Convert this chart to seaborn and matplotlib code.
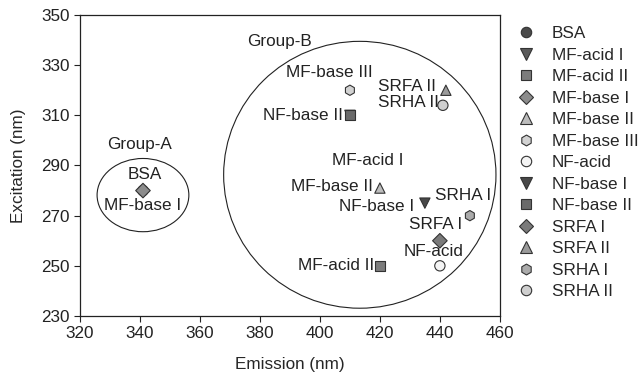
import numpy as np
import pandas as pd
import seaborn as sns
import matplotlib.pyplot as plt
from matplotlib.patches import Ellipse

# data
samples = ["BSA", "MF-acid I", "MF-acid II", "MF-base I", "MF-base II", "MF-base III",
           "NF-acid", "NF-base I", "NF-base II", "SRFA I", "SRFA II", "SRHA I", "SRHA II"]
emission = [341, 410, 420, 341, 420, 410, 440, 435, 410, 440, 442, 450, 441]
excitation = [280, 310, 250, 280, 281, 320, 250, 275, 310, 260, 320, 270, 314]

marker_list = ["o", "v", "s", "D", "^", "h", "o", "v", "s", "D", "^", "h", "o"]
color_list = ["#4a4a4a", "#5a5a5a", "#7c7c7c", "#8c8c8c", "#bdbdbd", "#d2d2d2", "#f4f4f4",
              "#484848", "#6a6a6a", "#7a7a7a", "#9a9a9a", "#ababab", "#cfcfcf"]

# point labels: text, x, y, alignment
label_text = ["BSA", "MF-base I", "MF-base III", "SRFA II", "SRHA II", "NF-base II", "MF-acid I",
              "MF-base II", "NF-base I", "SRHA I", "SRFA I", "NF-acid", "MF-acid II"]
label_x = [341.5, 341, 403, 438.5, 439.5, 407.5, 416, 417.5, 431.5, 438.5, 438.5, 438, 418]
label_y = [286.5, 274, 327, 321.5, 315, 310, 292, 281.5, 273.5, 278, 266.5, 255.7, 250]
label_ha = ["center", "center", "center", "right", "right", "right", "center",
            "right", "right", "left", "center", "center", "right"]

df = pd.DataFrame({"sample": samples, "Emission": emission, "Excitation": excitation})

sns.set_style("ticks")
plt.rcParams["font.family"] = ["Liberation Sans", "DejaVu Sans"]
fs = 12.3

fig = plt.figure(figsize=(6.42, 3.76), dpi=100)
ax = fig.add_axes([0.1246, 0.1596, 0.654, 0.8005])

# group outlines
ax.add_patch(Ellipse((341, 278.2), 30.6, 29.2, fill=False, ec="#222222", lw=0.8))
ax.add_patch(Ellipse((413.3, 286.3), 90.8, 106.4, fill=False, ec="#222222", lw=0.8))
ax.text(340, 298.5, "Group-A", ha="center", va="center", fontsize=fs, color="#222222")
ax.text(386.5, 339.6, "Group-B", ha="center", va="center", fontsize=fs, color="#222222")

sns.scatterplot(data=df, x="Emission", y="Excitation", hue="sample", style="sample",
                hue_order=samples, style_order=samples,
                palette=dict(zip(samples, color_list)),
                markers=dict(zip(samples, marker_list)),
                s=55, edgecolor="#333333", linewidth=0.8, ax=ax, zorder=3)

for t, x, y, ha in zip(label_text, label_x, label_y, label_ha):
    ax.text(x, y, t, ha=ha, va="center", fontsize=fs, color="#222222")

ax.set_xlim(320, 460)
ax.set_ylim(230, 350)
ax.set_xticks(np.arange(320, 461, 20))
ax.set_yticks(np.arange(230, 351, 20))
ax.set_xlabel("Emission (nm)", fontsize=fs, labelpad=11)
ax.set_ylabel("Excitation (nm)", fontsize=fs, labelpad=11)
ax.tick_params(direction="out", length=4, width=0.8, labelsize=fs, colors="#222222")
for sp in ax.spines.values():
    sp.set_linewidth(0.9)
    sp.set_color("#222222")

# even out legend marker sizes
msize = {"o": 7.5, "v": 8.0, "s": 6.8, "D": 7.0, "^": 8.0, "h": 7.8}
handles, labels = ax.get_legend_handles_labels()
for h, m in zip(handles, marker_list):
    h.set_markersize(msize[m])
    h.set_markeredgewidth(0.8)
leg = ax.legend(handles, labels, loc="upper left", bbox_to_anchor=(1.018, 0.985), frameon=False,
                fontsize=fs, handletextpad=0.8, labelspacing=0.38, handlelength=1.4,
                borderaxespad=0)

fig.savefig("out.png", dpi=100)
